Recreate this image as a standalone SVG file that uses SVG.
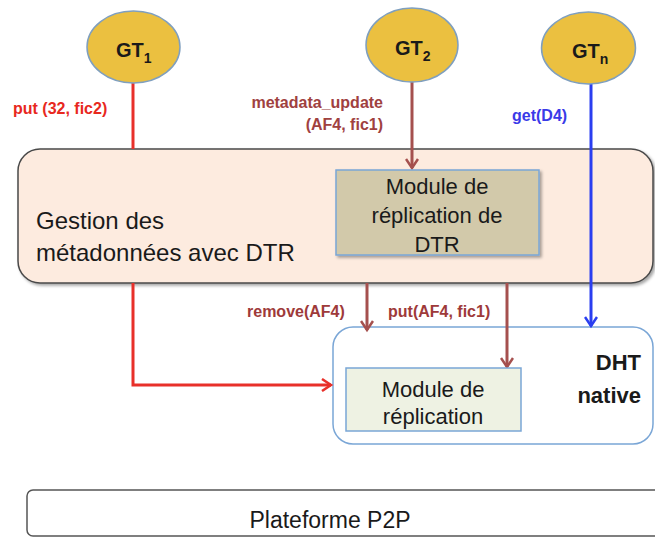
<svg xmlns="http://www.w3.org/2000/svg" width="655" height="538" viewBox="0 0 655 538">
<style>
.gt{fill:#ebc040;stroke:#7f9fbf;stroke-width:1.5}
.gtt{font-family:"Liberation Sans",Arial,sans-serif;font-weight:bold;font-size:20px;fill:#1a1a1a}
.sub{font-size:14px}
.t{font-family:"Liberation Sans",Arial,sans-serif;fill:#1a1a1a}
.lbl{font-family:"Liberation Sans",Arial,sans-serif;font-weight:bold;font-size:16px}
.red{stroke:#e8302a;stroke-width:3;fill:none}
.brn{stroke:#a5504e;stroke-width:3;fill:none}
.blu{stroke:#2a3ef0;stroke-width:3;fill:none}
</style>
<defs>
<filter id="sh" x="-5%" y="-5%" width="110%" height="115%">
<feDropShadow dx="2" dy="2" stdDeviation="1.5" flood-color="#000" flood-opacity="0.35"/>
</filter>
<marker id="aR" markerWidth="14" markerHeight="14" refX="11" refY="7" orient="auto" markerUnits="userSpaceOnUse">
<polyline points="2,1 11,7 2,13" fill="none" stroke="#e8302a" stroke-width="2.5"/>
</marker>
<marker id="aB" markerWidth="14" markerHeight="14" refX="11" refY="7" orient="auto" markerUnits="userSpaceOnUse">
<polyline points="2,1 11,7 2,13" fill="none" stroke="#a5504e" stroke-width="2.5"/>
</marker>
<marker id="aU" markerWidth="14" markerHeight="14" refX="11" refY="7" orient="auto" markerUnits="userSpaceOnUse">
<polyline points="2,1 11,7 2,13" fill="none" stroke="#2a3ef0" stroke-width="2.5"/>
</marker>
</defs>
<rect width="655" height="538" fill="#ffffff"/>

<g id="gestion">
<rect x="18" y="149" width="635" height="134" rx="22" fill="#fdebdf" stroke="#4a4a4a" stroke-width="1.5" filter="url(#sh)"/>
<text class="t" font-size="24" x="36" y="229">Gestion des</text>
<text class="t" font-size="24" x="36" y="261">métadonnées avec DTR</text>
</g>

<g id="dht">
<rect x="333" y="327" width="320" height="117" rx="20" fill="#ffffff" stroke="#7aa6d6" stroke-width="1.5"/>
<text class="t" font-size="22" font-weight="bold" x="641" y="370" text-anchor="end">DHT</text>
<text class="t" font-size="22" font-weight="bold" x="641" y="403" text-anchor="end">native</text>
</g>

<g id="connectors">
<line class="red" x1="133" y1="83" x2="133" y2="149"/>
<polyline class="red" points="133,283 133,385 331,385" marker-end="url(#aR)"/>
<line class="brn" x1="412" y1="82" x2="412" y2="168" marker-end="url(#aB)"/>
<line class="blu" x1="591" y1="84" x2="591" y2="326" marker-end="url(#aU)"/>
<line class="brn" x1="367" y1="283" x2="367" y2="330" marker-end="url(#aB)"/>
<line class="brn" x1="507" y1="283" x2="507" y2="367" marker-end="url(#aB)"/>
</g>

<g id="gt1">
<ellipse class="gt" cx="133.5" cy="47" rx="46.5" ry="36"/>
<text class="gtt" x="116" y="57">GT<tspan class="sub" dy="6">1</tspan></text>
</g>
<g id="gt2">
<ellipse class="gt" cx="412" cy="45" rx="46" ry="37"/>
<text class="gtt" x="395" y="55">GT<tspan class="sub" dy="6">2</tspan></text>
</g>
<g id="gtn">
<ellipse class="gt" cx="588.5" cy="48" rx="47" ry="36"/>
<text class="gtt" x="572" y="58">GT<tspan class="sub" dy="6">n</tspan></text>
</g>

<g id="module-dtr">
<rect x="336" y="170" width="203" height="85" fill="#d2c9aa" stroke="#7aa6d6" stroke-width="1.5" filter="url(#sh)"/>
<text class="t" font-size="22" x="437" y="194" text-anchor="middle">Module de</text>
<text class="t" font-size="22" x="437" y="223" text-anchor="middle">réplication de</text>
<text class="t" font-size="22" x="437" y="252" text-anchor="middle">DTR</text>
</g>

<g id="module-rep">
<rect x="346" y="368" width="175" height="63" fill="#eef2e3" stroke="#7aa6d6" stroke-width="1.5"/>
<text class="t" font-size="22" x="433" y="397" text-anchor="middle">Module de</text>
<text class="t" font-size="22" x="433" y="424" text-anchor="middle">réplication</text>
</g>

<g id="labels">
<text class="lbl" fill="#e8281e" x="13" y="114">put (32, fic2)</text>
<text class="lbl" fill="#a0413f" x="383" y="108" text-anchor="end">metadata_update</text>
<text class="lbl" fill="#a0413f" x="383" y="130" text-anchor="end">(AF4, fic1)</text>
<text class="lbl" fill="#3a3ae8" x="512" y="121">get(D4)</text>
<text class="lbl" fill="#9e3a3a" x="247" y="317">remove(AF4)</text>
<text class="lbl" fill="#9e3a3a" x="388" y="317">put(AF4, fic1)</text>
</g>

<g id="plateforme">
<rect x="27" y="490" width="640" height="46" rx="6" fill="#ffffff" stroke="#555555" stroke-width="1.5"/>
<text class="t" font-size="23" x="330" y="528" text-anchor="middle">Plateforme P2P</text>
</g>
</svg>
